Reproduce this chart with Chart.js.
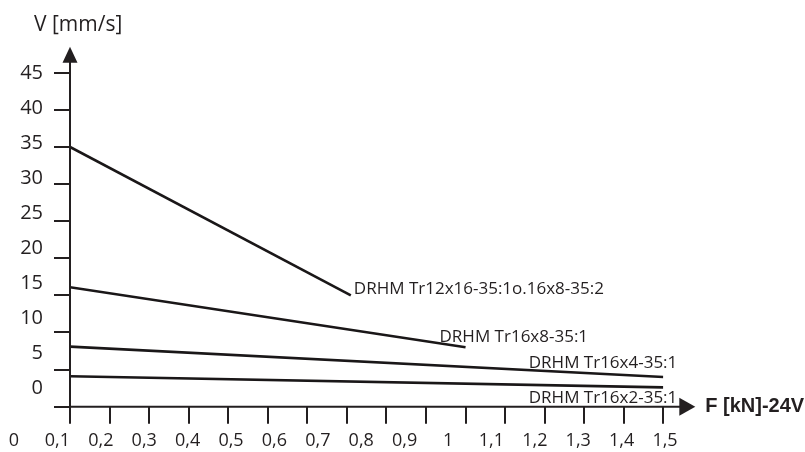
<!DOCTYPE html>
<html>
<head>
<meta charset="utf-8">
<script src="https://cdn.jsdelivr.net/npm/chart.js@4.4.1/dist/chart.umd.min.js"></script>
<style>
  html, body { margin: 0; padding: 0; background: #fff; }
  #wrap { width: 805px; height: 452px; }
</style>
</head>
<body>
<div id="wrap"><canvas id="chart" width="805" height="452"></canvas></div>
<script>
// series: force F [kN] -> speed V [mm/s]
const seriesNames = ['DRHM Tr12x16-35:1o.16x8-35:2', 'DRHM Tr16x8-35:1', 'DRHM Tr16x4-35:1', 'DRHM Tr16x2-35:1'];
const forceTr12x16 = [0, 0.71];
const speedTr12x16 = [35, 15];
const forceTr16x8 = [0, 1.0];
const speedTr16x8 = [16.1, 8.0];
const forceTr16x4 = [0, 1.5];
const speedTr16x4 = [8.1, 4.0];
const forceTr16x2 = [0, 1.5];
const speedTr16x2 = [4.1, 2.6];

const xTickValues = [0, 0.1, 0.2, 0.3, 0.4, 0.5, 0.6, 0.7, 0.8, 0.9, 1, 1.1, 1.2, 1.3, 1.4, 1.5];
const xTickLabels = ['0', '0,1', '0,2', '0,3', '0,4', '0,5', '0,6', '0,7', '0,8', '0,9', '1', '1,1', '1,2', '1,3', '1,4', '1,5'];
const yTickValues = [0, 5, 10, 15, 20, 25, 30, 35, 40, 45];
const yTickLabels = ['0', '5', '10', '15', '20', '25', '30', '35', '40', '45'];

const INK = '#231f20';
const LINE = '#1a1718';

// where each series name sits relative to the line's last point
const nameStyle = [
  { dx: 3, dy: -6, align: 'left' },
  { dx: -26, dy: -10, align: 'left' },
  { dx: 14, dy: -14, align: 'right' },
  { dx: 14, dy: 11, align: 'right' }
];

function toPoints(xs, ys) {
  return xs.map((x, i) => ({ x, y: ys[i] }));
}

const axisDecor = {
  id: 'axisDecor',
  afterDraw(chart) {
    const { ctx, chartArea: a } = chart;
    ctx.save();
    ctx.strokeStyle = INK;
    ctx.fillStyle = INK;
    ctx.lineWidth = 2;

    // y axis + arrow
    ctx.beginPath();
    ctx.moveTo(a.left, a.bottom);
    ctx.lineTo(a.left, a.top - 11);
    ctx.stroke();
    ctx.beginPath();
    ctx.moveTo(a.left, a.top - 26);
    ctx.lineTo(a.left - 7.5, a.top - 10);
    ctx.lineTo(a.left + 7.5, a.top - 10);
    ctx.closePath();
    ctx.fill();

    // x axis + arrow
    ctx.beginPath();
    ctx.moveTo(a.left, a.bottom);
    ctx.lineTo(a.right + 17, a.bottom);
    ctx.stroke();
    ctx.beginPath();
    ctx.moveTo(a.right + 32, a.bottom);
    ctx.lineTo(a.right + 16, a.bottom - 9);
    ctx.lineTo(a.right + 16, a.bottom + 9);
    ctx.closePath();
    ctx.fill();

    // axis titles
    ctx.textBaseline = 'middle';
    ctx.textAlign = 'left';
    ctx.font = '21px "Open Sans"';
    ctx.fillText('V [mm/s]', 34, 25);
    ctx.font = 'bold 20px "Liberation Sans", Arial';
    ctx.fillText('F [kN]-24V', a.right + 42, a.bottom);

    // series names at line ends
    ctx.font = '17px "Open Sans"';
    chart.data.datasets.forEach((ds, i) => {
      const pts = chart.getDatasetMeta(i).data;
      const end = pts[pts.length - 1];
      const s = nameStyle[i];
      ctx.textAlign = s.align;
      ctx.fillText(seriesNames[i], end.x + s.dx, end.y + s.dy);
    });
    ctx.restore();
  }
};

function setTicks(values) {
  return (scale) => { scale.ticks = values.map((value) => ({ value })); };
}

function drawChart() {
  const lineStyle = { borderColor: LINE, borderWidth: 2.6, pointRadius: 0, tension: 0, fill: false };
  new Chart(document.getElementById('chart'), {
    type: 'line',
    data: {
      datasets: [
        { label: seriesNames[0], data: toPoints(forceTr12x16, speedTr12x16), ...lineStyle },
        { label: seriesNames[1], data: toPoints(forceTr16x8, speedTr16x8), ...lineStyle },
        { label: seriesNames[2], data: toPoints(forceTr16x4, speedTr16x4), ...lineStyle },
        { label: seriesNames[3], data: toPoints(forceTr16x2, speedTr16x2), ...lineStyle }
      ]
    },
    options: {
      responsive: false,
      animation: false,
      layout: { padding: { top: 72.7, right: 141.7, bottom: 0, left: 0 } },
      plugins: { legend: { display: false }, tooltip: { enabled: false } },
      scales: {
        x: {
          type: 'linear', position: 'bottom', weight: 0, min: 0, max: 1.5,
          afterBuildTicks: setTicks(xTickValues),
          afterFit: (s) => { s.height = 17; },
          grid: { drawOnChartArea: false, tickLength: 17, color: INK, lineWidth: 2 },
          border: { display: false },
          ticks: { display: false }
        },
        xLabels: {
          type: 'linear', position: 'bottom', weight: 1, min: 0.129, max: 1.496,
          afterBuildTicks: setTicks(xTickValues),
          afterFit: (s) => { s.height = 28.3; },
          grid: { display: false, drawTicks: false },
          border: { display: false },
          ticks: {
            autoSkip: false, maxRotation: 0, padding: 6, color: INK,
            font: { family: 'Open Sans', size: 18 },
            callback: (v, i) => xTickLabels[i]
          }
        },
        y: {
          type: 'linear', position: 'left', weight: 0, min: 0, max: 45,
          afterBuildTicks: setTicks(yTickValues),
          afterFit: (s) => { s.width = 16; },
          grid: { drawOnChartArea: false, tickLength: 16, color: INK, lineWidth: 2 },
          border: { display: false },
          ticks: { display: false }
        },
        yLabels: {
          type: 'linear', position: 'left', weight: 1, min: -2.67, max: 45.04,
          afterBuildTicks: setTicks(yTickValues),
          afterFit: (s) => { s.width = 54; },
          grid: { display: false, drawTicks: false },
          border: { display: false },
          ticks: {
            autoSkip: false, padding: 11, color: INK,
            font: { family: 'Open Sans', size: 20 },
            callback: (v, i) => yTickLabels[i]
          }
        }
      }
    },
    plugins: [axisDecor]
  });
}

Promise.all([
  document.fonts.load('20px "Open Sans"'),
  document.fonts.load('bold 20px "Liberation Sans"')
]).then(drawChart, drawChart);
</script>
</body>
</html>
